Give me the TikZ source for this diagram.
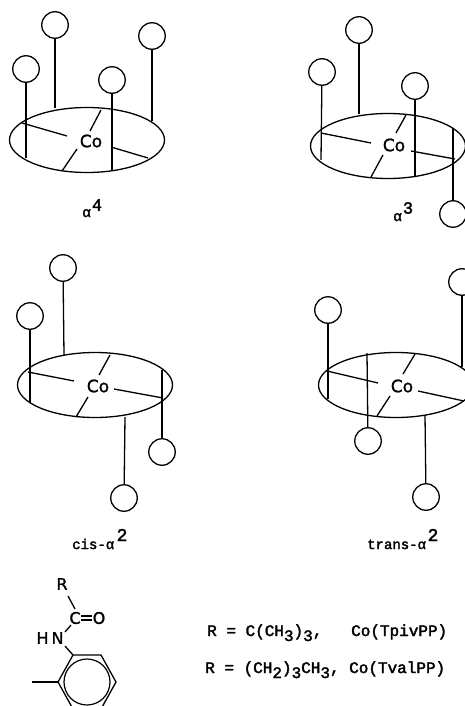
\documentclass[tikz,border=0pt]{standalone}
\usepackage{fontspec}
\setmainfont{DejaVu Sans}
\newfontfamily\labelmono{Liberation Mono}[FakeBold=2.2]
\newfontfamily\heavysans{DejaVu Sans}[FakeBold=1.2]
\usetikzlibrary{shapes.geometric}
\tikzset{
  ball/.style={circle,draw,line width=1.3pt,minimum size=26.5pt,inner sep=0pt,fill=white},
  disc/.style={ellipse,draw,line width=1.3pt,minimum width=155pt,minimum height=65pt,inner sep=0pt},
  pin/.style={line width=1.3pt},
  spoke/.style={line width=1.3pt},
  metal/.style={font=\heavysans\fontsize{17}{17}\selectfont,inner sep=0pt},
  caption/.style={font=\labelmono\fontsize{14.5}{15}\selectfont,inner sep=0pt,anchor=base west},
  supnum/.style={font=\labelmono\fontsize{17}{17}\selectfont,inner sep=0pt},
  formula/.style={font=\labelmono\fontsize{16}{16}\selectfont,inner sep=0pt,anchor=base west},
  atom/.style={font=\heavysans\fontsize{16}{16}\selectfont,inner sep=0pt}
}
\newcommand{\pinat}[5]{%
  \node[ball] (#1) at (#2,#3) {};
  \coordinate (#1e) at (#4,#5);
  \draw[pin] (#1) -- (#1e);}
\newcommand{\spokeat}[5]{%
  \coordinate (#1a) at (#2,#3);
  \coordinate (#1b) at (#4,#5);
  \draw[spoke] (#1a) -- (#1b);}
\newcommand{\lowered}[1]{\raisebox{-5pt}{#1}}
\begin{document}
\begin{tikzpicture}[x=1pt,y=-1pt]
\useasboundingbox (0,0) rectangle (465,706);
% alpha-4
\node[disc] (d1) at (87,140) {};
\pinat{a1}{55}{25}{55}{108}
\pinat{a2}{26}{69}{26}{158}
\pinat{a3}{112}{80}{112}{171}
\pinat{a4}{152}{36}{152}{121}
\spokeat{as1}{22}{123}{67}{136}
\spokeat{as2}{101}{110}{90}{131}
\spokeat{as3}{77}{149}{62}{171}
\spokeat{as4}{111}{147}{148}{158}
\node[metal] (co1) at (91,141) {Co};
\node[caption] (l1) at (82,217) {α};
\node[supnum] (s1) at (97,205) {4};
% alpha-3
\node[disc] (d2) at (388,146) {};
\pinat{b1}{359}{30}{359}{114}
\pinat{b2}{322}{72}{321}{160}
\pinat{b3}{415}{86}{415}{177}
\pinat{b4}{453}{214}{453}{128}
\spokeat{bs1}{321}{133}{371}{143}
\spokeat{bs2}{406}{115}{396}{133}
\spokeat{bs3}{383}{155}{371}{177}
\spokeat{bs4}{411}{151}{455}{159}
\node[metal] (co2) at (394,145) {Co};
\node[caption] (l2) at (393,221) {α};
\node[supnum] (s2) at (408,208) {3};
% cis-alpha-2
\node[disc] (d3) at (95,385) {};
\pinat{c1}{63}{268}{64}{355}
\pinat{c2}{30}{316}{30}{403}
\pinat{c3}{124}{498}{125}{417}
\pinat{c4}{162}{452}{162}{370}
\spokeat{cs1}{28}{372}{74}{381}
\spokeat{cs2}{110}{355}{99}{375}
\spokeat{cs3}{88}{397}{76}{417}
\spokeat{cs4}{114}{389}{163}{398}
\node[metal] (co3) at (98,386) {Co};
\node[caption,font=\labelmono\fontsize{14}{15}\selectfont] (l3) at (72,549) {cis-α};
\node[supnum,font=\labelmono\fontsize{18}{18}\selectfont] (s3) at (122,535) {2};
% trans-alpha-2
\node[disc] (d4) at (396,385) {};
\pinat{e1}{328}{310}{328}{399}
\pinat{e2}{462}{282}{462}{367}
\pinat{e3}{368}{441}{367}{353}
\pinat{e4}{426}{497}{425}{415}
\spokeat{es1}{327}{371}{378}{383}
\spokeat{es2}{415}{354}{403}{374}
\spokeat{es3}{390}{396}{377}{416}
\spokeat{es4}{418}{391}{464}{401}
\node[metal] (co4) at (402,386) {Co};
\node[caption,font=\labelmono\fontsize{14}{15}\selectfont] (l4) at (367,549) {trans-α};
\node[supnum,font=\labelmono\fontsize{18}{18}\selectfont] (s4) at (433,535) {2};
% picket
\node[atom] (r) at (62,584) {R};
\node[atom] (cc) at (75,618) {C};
\node[atom] (o) at (99,618) {O};
\node[atom] (nh) at (50,638) {H\hspace{3pt}N};
\coordinate (rb) at (68,596);
\coordinate (rc) at (75,609);
\draw[spoke] (rb) -- (rc);
\coordinate (db1) at (81,616);
\coordinate (db2) at (92,616);
\coordinate (db3) at (81,620);
\coordinate (db4) at (92,620);
\draw[spoke] (db1) -- (db2);
\draw[spoke] (db3) -- (db4);
\coordinate (cn1) at (71,625);
\coordinate (cn2) at (65,632);
\draw[spoke] (cn1) -- (cn2);
\coordinate (r1) at (73,655);
\coordinate (r2) at (101,655);
\coordinate (r3) at (116,682);
\coordinate (r4) at (101,709);
\coordinate (r5) at (73,709);
\coordinate (r6) at (58,682);
\coordinate (tail) at (32,682);
\coordinate (nb) at (65,646);
\draw[spoke] (nb) -- (r1);
\draw[spoke] (r1) -- (r2) -- (r3) -- (r4) -- (r5) -- (r6) -- cycle;
\draw[spoke] (r6) -- (tail);
\node[circle,draw,line width=1.2pt,minimum size=46pt,inner sep=0pt] (ring) at (87,682) {};
% formulas
\node[formula] (f1) at (207,636) {R = C(CH\lowered{3})\lowered{3},};
\node[formula] (f2) at (351,636) {Co(TpivPP)};
\node[formula] (f3) at (205,673) {R = (CH\lowered{2})\lowered{3}CH\lowered{3},};
\node[formula] (f4) at (349,673) {Co(TvalPP)};
\end{tikzpicture}
\end{document}
